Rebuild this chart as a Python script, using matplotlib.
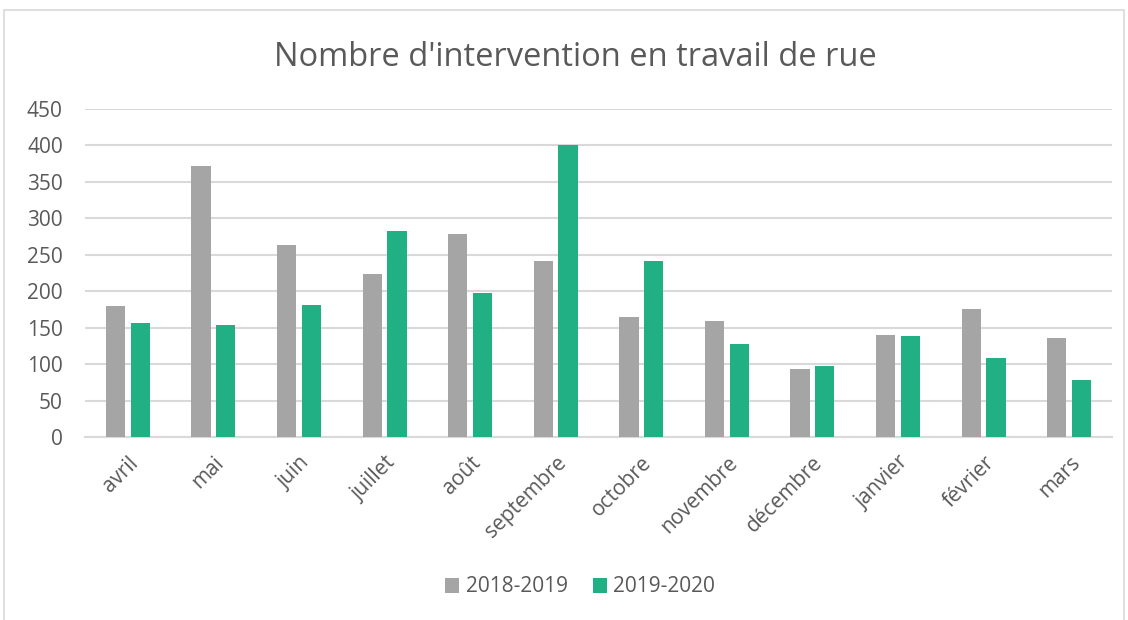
import matplotlib
matplotlib.use("Agg")
import matplotlib.pyplot as plt
import numpy as np
from matplotlib.patches import Rectangle

months = ["avril", "mai", "juin", "juillet", "août", "septembre", "octobre",
          "novembre", "décembre", "janvier", "février", "mars"]
s2018_2019 = [180, 372, 264, 223, 279, 241, 165, 159, 93, 140, 176, 136]
s2019_2020 = [156, 154, 181, 282, 198, 400, 241, 128, 98, 139, 108, 78]
series_names = ["2018-2019", "2019-2020"]
yticks = [0, 50, 100, 150, 200, 250, 300, 350, 400, 450]

W, H = 1128, 620
plt.rcParams['font.family'] = ['Open Sans', 'DejaVu Sans']
fig = plt.figure(figsize=(W / 100, H / 100), dpi=100)

ax = fig.add_axes([85 / W, 1 - 437 / H, (1112 - 85) / W, (437 - 109) / H])
x = np.arange(len(months))
bw = 0.225
off = 0.145
ax.bar(x - off, s2018_2019, width=bw, color="#A5A5A5", label=series_names[0], zorder=3)
ax.bar(x + off, s2019_2020, width=bw, color="#21AF84", label=series_names[1], zorder=3)

ax.set_xlim(-0.5, len(months) - 0.5)
ax.set_ylim(0, 450)
ax.set_yticks(yticks)
ax.set_yticklabels([str(v) for v in yticks], fontsize=15, color="#595959")
ax.yaxis.grid(True, color="#D9D9D9", linewidth=1.5, zorder=0)
ax.set_axisbelow(True)
for sp in ["top", "right", "left"]:
    ax.spines[sp].set_visible(False)
ax.spines["bottom"].set_color("#D9D9D9")
ax.spines["bottom"].set_linewidth(1.5)
ax.tick_params(axis="both", length=0)
ax.tick_params(axis="y", pad=16)
ax.set_xticks(x)
ax.set_xticklabels(months, rotation=45, ha="right", rotation_mode="anchor",
                   fontsize=15, color="#595959")
ax.tick_params(axis="x", pad=11)

fig.text(575 / W, 1 - 57 / H, "Nombre d'intervention en travail de rue",
         ha="center", va="center", fontsize=23.5, color="#595959")

leg = fig.legend(loc="center", bbox_to_anchor=(580 / W, 1 - 587 / H), ncol=2,
                 frameon=False, fontsize=15, handlelength=0.7, handleheight=0.7,
                 handletextpad=0.3, columnspacing=1.2)
for t in leg.get_texts():
    t.set_color("#595959")

fig.patches.append(Rectangle((4 / W, -0.01), (1124 - 4) / W, 1 - 10 / H + 0.01,
                             transform=fig.transFigure, fill=False,
                             edgecolor="#D9D9D9", linewidth=1.2))

fig.savefig("out.png", dpi=100, facecolor="white")
